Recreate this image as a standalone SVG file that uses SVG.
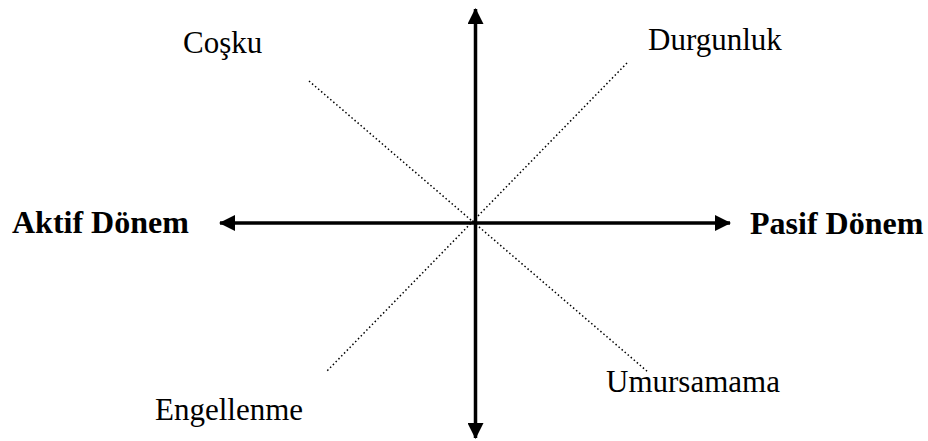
<svg xmlns="http://www.w3.org/2000/svg" width="928" height="441" viewBox="0 0 928 441">
<style>
.lbl{font-family:"Liberation Serif","Times New Roman",serif;font-size:31px;fill:#000}
.bold{font-weight:bold;font-size:32px}
.axis{stroke:#000;stroke-width:3.5;fill:none}
.dot{stroke:#000;stroke-width:1.5;stroke-dasharray:1.5 2.5;fill:none}
</style>
<defs>
<marker id="ah" viewBox="0 0 16 16" refX="15" refY="8" markerWidth="16" markerHeight="16" markerUnits="userSpaceOnUse" orient="auto">
<path d="M0,0 L16,8 L0,16 Z" fill="#000"/>
</marker>
</defs>
<rect width="928" height="441" fill="#fff"/>
<g id="connectors">
<line class="dot" x1="309" y1="81" x2="648" y2="372"/>
<line class="dot" x1="627" y1="63" x2="326" y2="372"/>
<line class="axis" x1="475.5" y1="223" x2="475.5" y2="9" marker-end="url(#ah)"/>
<line class="axis" x1="475.5" y1="223" x2="475.5" y2="438" marker-end="url(#ah)"/>
<line class="axis" x1="475.5" y1="223" x2="220" y2="223" marker-end="url(#ah)"/>
<line class="axis" x1="475.5" y1="223" x2="730" y2="223" marker-end="url(#ah)"/>
</g>
<g id="n-aktif"><text class="lbl bold" x="12" y="233">Aktif Dönem</text></g>
<g id="n-pasif"><text class="lbl bold" x="750" y="234">Pasif Dönem</text></g>
<g id="n-cosku"><text class="lbl" x="183" y="53">Coşku</text></g>
<g id="n-durgunluk"><text class="lbl" x="648" y="50">Durgunluk</text></g>
<g id="n-engellenme"><text class="lbl" x="155" y="420">Engellenme</text></g>
<g id="n-umursamama"><text class="lbl" x="606" y="392">Umursamama</text></g>
</svg>
